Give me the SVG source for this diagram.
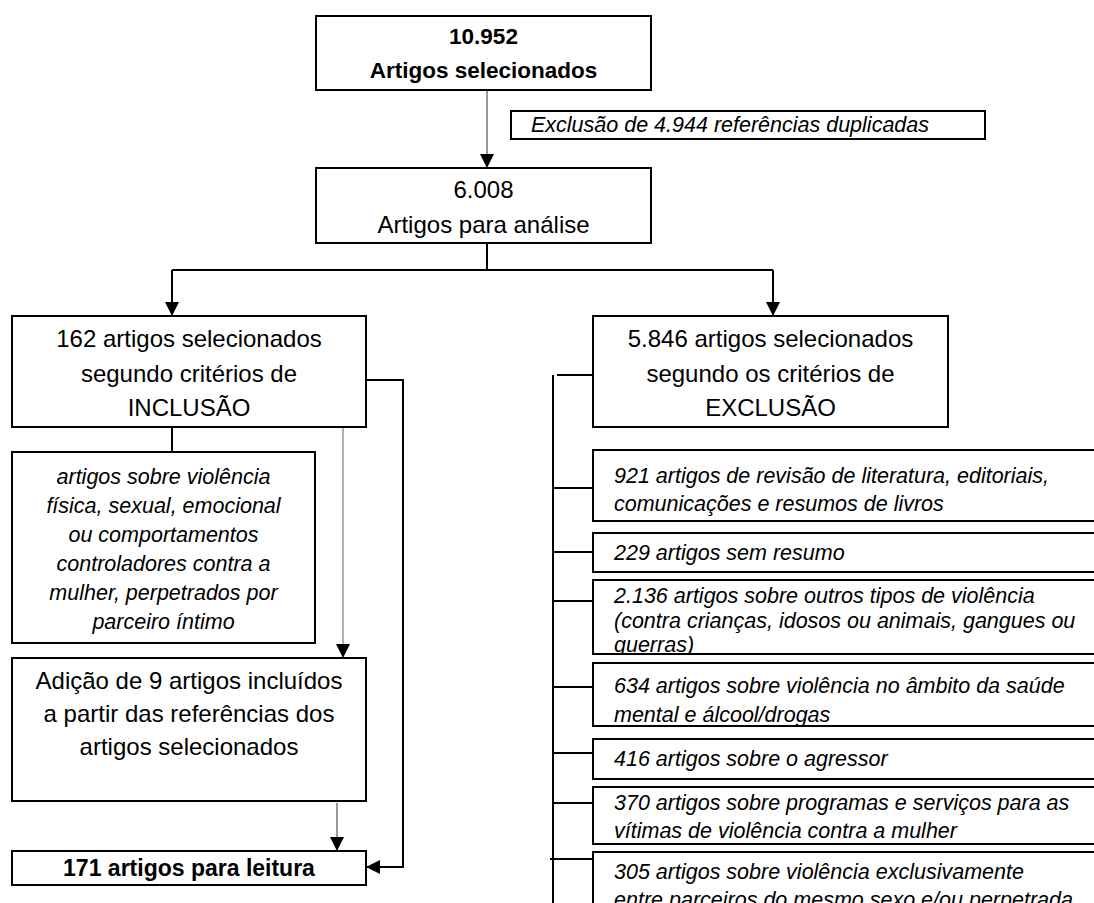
<svg xmlns="http://www.w3.org/2000/svg" width="1094" height="903" viewBox="0 0 1094 903">
<style>
.box{fill:#fff;stroke:#000;stroke-width:2}
.t{font-family:"Liberation Sans",Arial,sans-serif;font-size:24px;fill:#000;text-anchor:middle}
.b{font-family:"Liberation Sans",Arial,sans-serif;font-size:22.5px;font-weight:bold;fill:#000;text-anchor:middle}
.i{font-family:"Liberation Sans",Arial,sans-serif;font-size:21.5px;font-style:italic;fill:#000}
.ic{text-anchor:middle}
.c{fill:none;stroke:#000;stroke-width:2}
.thin{fill:none;stroke:#333;stroke-width:1}
.gray{fill:none;stroke:#999;stroke-width:1.5}
</style>
<defs>
<marker id="ah" markerWidth="14" markerHeight="14" refX="14" refY="7" orient="auto" markerUnits="userSpaceOnUse">
<path d="M0,0 L14,7 L0,14 Z" fill="#000"/>
</marker>
<clipPath id="c2136"><rect x="593" y="580" width="501" height="74"/></clipPath>
<clipPath id="c634"><rect x="593" y="663" width="501" height="62"/></clipPath>
</defs>
<rect width="1094" height="903" fill="#fff"/>

<g id="connectors">
<line class="thin" x1="487" y1="90" x2="487" y2="168" marker-end="url(#ah)"/>
<polyline class="c" points="487,243 487,270"/>
<polyline class="c" points="172,270 773,270"/>
<line class="c" x1="172" y1="270" x2="172" y2="316" marker-end="url(#ah)"/>
<line class="c" x1="773" y1="270" x2="773" y2="316" marker-end="url(#ah)"/>
<line class="c" x1="172" y1="427" x2="172" y2="452"/>
<line class="gray" x1="343" y1="427" x2="343" y2="658" marker-end="url(#ah)"/>
<line class="thin" x1="337" y1="803" x2="337" y2="851" marker-end="url(#ah)"/>
<polyline class="c" points="366,380 403,380 403,867 366,867" marker-end="url(#ah)"/>
<line class="c" x1="553" y1="375" x2="553" y2="903"/>
<line class="c" x1="557" y1="375" x2="593" y2="375"/>
<line class="c" x1="553" y1="488" x2="593" y2="488"/>
<line class="c" x1="553" y1="552" x2="593" y2="552"/>
<line class="c" x1="553" y1="601" x2="593" y2="601"/>
<line class="c" x1="553" y1="687" x2="593" y2="687"/>
<line class="c" x1="553" y1="753" x2="593" y2="753"/>
<line class="c" x1="553" y1="803" x2="593" y2="803"/>
<line class="c" x1="550" y1="859" x2="593" y2="859"/>
</g>

<g id="n_10952">
<rect class="box" x="316" y="16" width="335" height="74"/>
<text class="b" x="483.5" y="44">10.952</text>
<text class="b" x="483.5" y="78">Artigos selecionados</text>
</g>

<g id="n_excl_dup">
<rect class="box" x="511" y="111" width="474" height="28"/>
<text class="i" x="531" y="132">Exclusão de 4.944 referências duplicadas</text>
</g>

<g id="n_6008">
<rect class="box" x="316" y="168" width="335" height="75"/>
<text class="t" x="483.5" y="198">6.008</text>
<text class="t" x="483.5" y="233">Artigos para análise</text>
</g>

<g id="n_162">
<rect class="box" x="12" y="316" width="354" height="111"/>
<text class="t" x="189" y="347">162 artigos selecionados</text>
<text class="t" x="189" y="382">segundo critérios de</text>
<text class="t" x="189" y="416">INCLUSÃO</text>
</g>

<g id="n_5846">
<rect class="box" x="593" y="316" width="355" height="111"/>
<text class="t" x="770.5" y="347">5.846 artigos selecionados</text>
<text class="t" x="770.5" y="382">segundo os critérios de</text>
<text class="t" x="770.5" y="416">EXCLUSÃO</text>
</g>

<g id="n_incl_crit">
<rect class="box" x="12" y="452" width="303" height="191"/>
<text class="i ic" x="163.5" y="484">artigos sobre violência</text>
<text class="i ic" x="163.5" y="513">física, sexual, emocional</text>
<text class="i ic" x="163.5" y="542">ou comportamentos</text>
<text class="i ic" x="163.5" y="571">controladores contra a</text>
<text class="i ic" x="163.5" y="600">mulher, perpetrados por</text>
<text class="i ic" x="163.5" y="629">parceiro íntimo</text>
</g>

<g id="n_adicao">
<rect class="box" x="12" y="658" width="354" height="143"/>
<text class="t" x="189" y="689">Adição de 9 artigos incluídos</text>
<text class="t" x="189" y="722">a partir das referências dos</text>
<text class="t" x="189" y="755">artigos selecionados</text>
</g>

<g id="n_171">
<rect class="box" x="12" y="851" width="354" height="34"/>
<text class="b" x="189" y="876" style="font-size:23px">171 artigos para leitura</text>
</g>

<g id="n_921">
<rect class="box" x="593" y="450" width="520" height="71"/>
<text class="i" x="614" y="483">921 artigos de revisão de literatura, editoriais,</text>
<text class="i" x="614" y="511">comunicações e resumos de livros</text>
</g>

<g id="n_229">
<rect class="box" x="593" y="533" width="520" height="39"/>
<text class="i" x="614" y="560">229 artigos sem resumo</text>
</g>

<g id="n_2136">
<rect class="box" x="593" y="580" width="520" height="74"/>
<g clip-path="url(#c2136)">
<text class="i" x="614" y="603">2.136 artigos sobre outros tipos de violência</text>
<text class="i" x="614" y="628">(contra crianças, idosos ou animais, gangues ou</text>
<text class="i" x="614" y="652">guerras)</text>
</g>
</g>

<g id="n_634">
<rect class="box" x="593" y="663" width="520" height="63"/>
<g clip-path="url(#c634)">
<text class="i" x="614" y="693">634 artigos sobre violência no âmbito da saúde</text>
<text class="i" x="614" y="722">mental e álcool/drogas</text>
</g>
</g>

<g id="n_416">
<rect class="box" x="593" y="739" width="520" height="40"/>
<text class="i" x="614" y="766">416 artigos sobre o agressor</text>
</g>

<g id="n_370">
<rect class="box" x="593" y="787" width="520" height="57"/>
<text class="i" x="614" y="810">370 artigos sobre programas e serviços para as</text>
<text class="i" x="614" y="838">vítimas de violência contra a mulher</text>
</g>

<g id="n_305">
<rect class="box" x="593" y="852" width="520" height="70"/>
<text class="i" x="614" y="879">305 artigos sobre violência exclusivamente</text>
<text class="i" x="614" y="907">entre parceiros do mesmo sexo e/ou perpetrada</text>
</g>
</svg>
